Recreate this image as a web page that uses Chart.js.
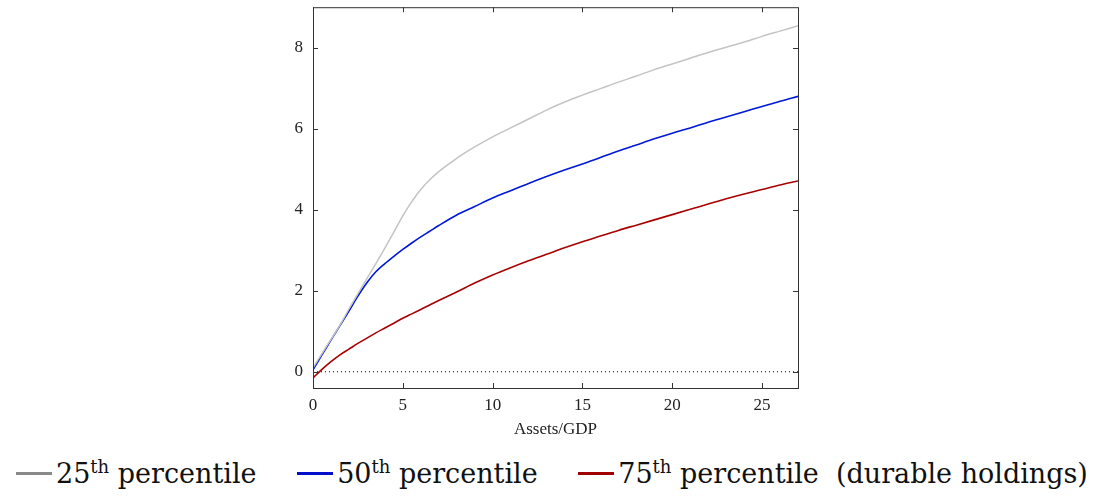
<!DOCTYPE html>
<html>
<head>
<meta charset="utf-8">
<script src="https://cdn.jsdelivr.net/npm/chart.js@4"></script>
<style>
  html, body { margin: 0; padding: 0; background: #fff; }
  #wrap { position: absolute; left: 0; top: -13px; width: 1099px; height: 453px; }
  #legend {
    position: absolute; left: 0; top: 456px; width: 1099px; text-align: center;
    font-family: "DejaVu Serif", serif; font-size: 27px; color: #111; white-space: nowrap;
  }
  #legend span.item { margin: 0 16px; }
  #legend i { display: inline-block; width: 36px; height: 3px; vertical-align: middle; margin-right: 4px; position: relative; top: -2px; }
  #legend sup { font-size: 18px; }
</style>
</head>
<body>
<div id="wrap"><canvas id="myChart" width="1099" height="453"></canvas></div>
<div id="legend">
  <span class="item"><i style="background:#8a8a8a"></i>25<sup>th</sup> percentile</span>
  <span class="item"><i style="background:#0010c8"></i>50<sup>th</sup> percentile</span>
  <span class="item"><i style="background:#a00000"></i>75<sup>th</sup> percentile&nbsp; (durable holdings)</span>
</div>
<script>
const assets = [0, 0.5, 1, 1.5, 2, 2.5, 3, 3.5, 4, 4.5, 5, 5.5, 6, 6.5, 7, 8, 9, 10, 11, 12, 13, 14, 15, 16, 17, 18, 19, 20, 21, 22, 23, 24, 25, 26, 27];
const p25 = [0.1, 0.45, 0.8, 1.15, 1.55, 1.93, 2.3, 2.67, 3.05, 3.45, 3.85, 4.2, 4.5, 4.74, 4.94, 5.27, 5.55, 5.8, 6.02, 6.24, 6.46, 6.66, 6.83, 6.99, 7.15, 7.3, 7.46, 7.6, 7.74, 7.88, 8.01, 8.14, 8.28, 8.41, 8.54];
const p50 = [0.05, 0.42, 0.78, 1.14, 1.5, 1.87, 2.2, 2.47, 2.67, 2.85, 3.02, 3.18, 3.33, 3.47, 3.61, 3.87, 4.08, 4.29, 4.47, 4.65, 4.82, 4.98, 5.13, 5.29, 5.45, 5.6, 5.75, 5.89, 6.02, 6.16, 6.29, 6.42, 6.55, 6.68, 6.8];
const p75 = [-0.15, 0.06, 0.25, 0.42, 0.56, 0.7, 0.83, 0.96, 1.08, 1.2, 1.32, 1.43, 1.54, 1.65, 1.76, 1.97, 2.19, 2.39, 2.57, 2.74, 2.9, 3.06, 3.21, 3.35, 3.49, 3.62, 3.75, 3.88, 4.01, 4.14, 4.27, 4.39, 4.5, 4.61, 4.71];
const xTicks = [0, 5, 10, 15, 20, 25];
const yTicks = [0, 2, 4, 6, 8];

function pts(ys) {
    return assets.map((x, i) => ({ x: x, y: ys[i] }));
}

// box with inward ticks on all four sides
const boxPlugin = {
    id: 'box',
    afterDraw(chart) {
        const ctx = chart.ctx;
        const a = chart.chartArea;
        const xs = chart.scales.x, ys = chart.scales.y;
        ctx.save();
        ctx.strokeStyle = '#333';
        ctx.lineWidth = 1;
        ctx.strokeRect(a.left + 0.5, a.top + 0.5, a.right - a.left, a.bottom - a.top);
        ctx.beginPath();
        xTicks.forEach(v => {
            const px = Math.round(xs.getPixelForValue(v)) + 0.5;
            ctx.moveTo(px, a.bottom); ctx.lineTo(px, a.bottom - 5);
            ctx.moveTo(px, a.top); ctx.lineTo(px, a.top + 5);
        });
        yTicks.forEach(v => {
            const py = Math.round(ys.getPixelForValue(v)) + 0.5;
            ctx.moveTo(a.left, py); ctx.lineTo(a.left + 5, py);
            ctx.moveTo(a.right, py); ctx.lineTo(a.right - 5, py);
        });
        ctx.stroke();
        ctx.restore();
    }
};

const lineStyle = { pointRadius: 0, cubicInterpolationMode: 'monotone' };

const config = {
    type: 'line',
    data: {
        datasets: [
            {
                label: 'zero',
                data: [{ x: 0, y: 0 }, { x: 27, y: 0 }],
                borderColor: '#000',
                borderWidth: 1,
                borderDash: [1, 3],
                pointRadius: 0,
            },
            Object.assign({ label: '25th percentile', data: pts(p25), borderColor: '#c4c4c4', borderWidth: 1.5 }, lineStyle),
            Object.assign({ label: '50th percentile', data: pts(p50), borderColor: '#0018d8', borderWidth: 1.6 }, lineStyle),
            Object.assign({ label: '75th percentile', data: pts(p75), borderColor: '#a80000', borderWidth: 1.6 }, lineStyle),
        ],
    },
    options: {
        responsive: false,
        animation: false,
        layout: { padding: { left: 0, top: 5, right: 301, bottom: 0 } },
        plugins: { legend: { display: false }, tooltip: { enabled: false } },
        scales: {
            x: {
                type: 'linear',
                min: 0,
                max: 27,
                grid: { display: false, drawTicks: false },
                border: { display: false },
                ticks: {
                    stepSize: 5,
                    includeBounds: false,
                    color: '#222',
                    padding: 7,
                    font: { family: 'Liberation Serif', size: 17 },
                },
                title: {
                    display: true,
                    text: 'Assets/GDP',
                    color: '#222',
                    padding: { top: 0, bottom: 0 },
                    font: { family: 'Liberation Serif', size: 17 },
                },
                afterFit(scale) { scale.height = 52; },
            },
            y: {
                min: -0.4,
                max: 9,
                grid: { display: false, drawTicks: false },
                border: { display: false },
                ticks: {
                    stepSize: 2,
                    includeBounds: false,
                    color: '#222',
                    padding: 10,
                    font: { family: 'Liberation Serif', size: 17 },
                },
                afterFit(scale) { scale.width = 313; },
            },
        },
    },
    plugins: [boxPlugin],
};
const myChart = new Chart(document.getElementById('myChart'), config);
</script>
</body>
</html>
